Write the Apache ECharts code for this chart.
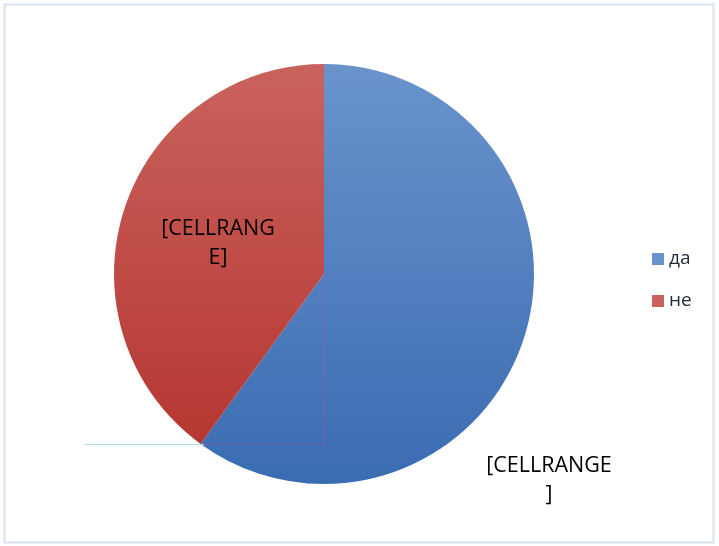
<!DOCTYPE html>
<html>
<head>
<meta charset="utf-8">
<script src="https://cdn.jsdelivr.net/npm/echarts@6/dist/echarts.min.js"></script>
<style>html,body{margin:0;padding:0;background:#fff}#c{width:719px;height:546px}</style>
</head>
<body>
<div id="c"></div>
<script>
const categories = ['да', 'не'];
const values = [60, 40];
const labelTexts = ['[CELLRANGE\n]', '[CELLRANG\nE]'];

const chart = echarts.init(document.getElementById('c'), null, {renderer: 'canvas'});
const gradsGlobal = [
  {type: 'linear', x: 0, y: 64, x2: 0, y2: 484, global: true, colorStops: [{offset: 0, color: '#6a93cc'}, {offset: 1, color: '#3a6cb2'}]},
  {type: 'linear', x: 0, y: 64, x2: 0, y2: 484, global: true, colorStops: [{offset: 0, color: '#c9625d'}, {offset: 1, color: '#b4332e'}]}
];
const legendColors = ['#4f81bd', '#c0504d'];
const labelPos = [[549, 480], [218, 243]];

chart.setOption({
  animation: false,
  color: legendColors,
  legend: {
    orient: 'vertical',
    left: 647,
    top: 243,
    itemWidth: 12,
    itemHeight: 12,
    itemGap: 20,
    icon: 'rect',
    textStyle: {fontFamily: 'Open Sans', fontSize: 19, color: '#1f2a3a', lineHeight: 22},
    data: categories
  },
  series: [{
    type: 'pie',
    center: [324, 274],
    radius: 210,
    startAngle: 90,
    clockwise: true,
    silent: true,
    data: categories.map((c, i) => ({
      name: c,
      value: values[i],
      itemStyle: {color: gradsGlobal[i]},
      label: {formatter: labelTexts[i]}
    })),
    label: {
      show: true,
      position: 'inside',
      color: '#000',
      fontFamily: 'Open Sans',
      fontSize: 21.5,
      lineHeight: 29,
      align: 'center'
    },
    labelLine: {show: false},
    labelLayout: function (p) {
      const pos = labelPos[p.dataIndex];
      return {x: pos[0], y: pos[1], align: 'center', verticalAlign: 'middle'};
    }
  }],
  graphic: [
    {type: 'rect', shape: {x: 4.5, y: 4.5, width: 709, height: 538}, style: {fill: 'none', stroke: '#d8e2f0', lineWidth: 2}, silent: true},
    {type: 'line', shape: {x1: 324.5, y1: 278, x2: 324.5, y2: 444}, style: {stroke: 'rgba(190,70,170,0.45)', lineWidth: 1}, silent: true, z: 100},
    {type: 'line', shape: {x1: 204, y1: 444.5, x2: 324.5, y2: 444.5}, style: {stroke: 'rgba(190,70,170,0.45)', lineWidth: 1}, silent: true, z: 100},
    {type: 'line', shape: {x1: 85, y1: 444.5, x2: 204, y2: 444.5}, style: {stroke: '#aee0ea', lineWidth: 1}, silent: true, z: 100}
  ]
});
</script>
</body>
</html>
